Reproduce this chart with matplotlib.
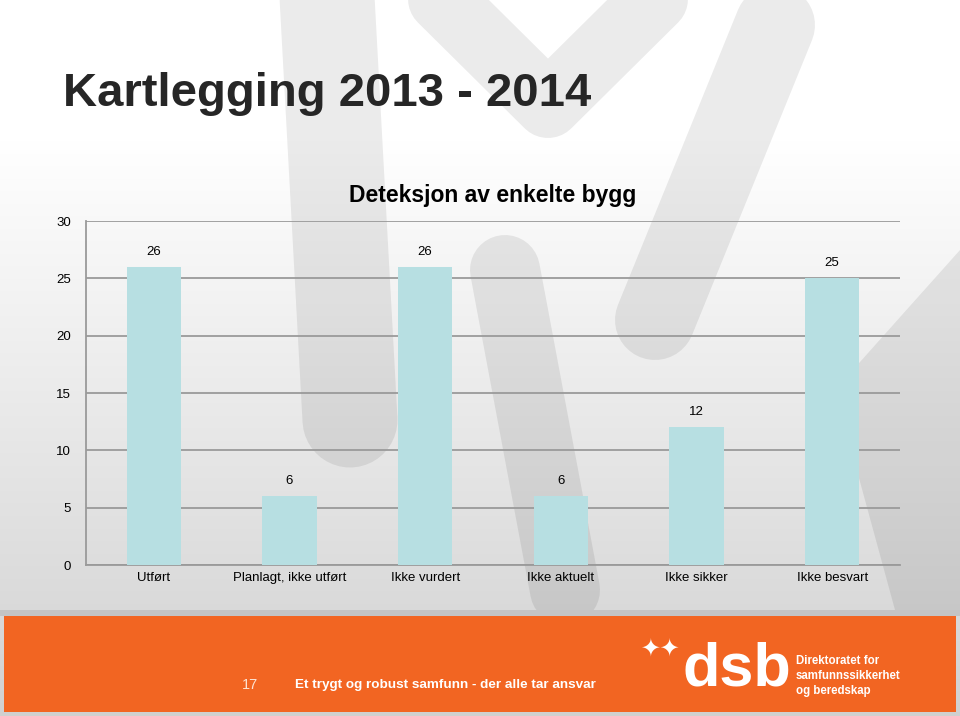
import matplotlib.pyplot as plt
import numpy as np
from matplotlib.patches import Rectangle, Polygon

categories = ['Utført', 'Planlagt, ikke utført', 'Ikke vurdert', 'Ikke aktuelt', 'Ikke sikker', 'Ikke besvart']
values = [26, 6, 26, 6, 12, 25]
yticks = [0, 5, 10, 15, 20, 25, 30]

plt.rcParams['font.family'] = ['Liberation Sans', 'DejaVu Sans']

fig = plt.figure(figsize=(9.6, 7.16), dpi=100)

# slide background: light gradient
bg = fig.add_axes([0, 0, 1, 1], zorder=0)
grad = np.concatenate([np.ones(50), np.linspace(1.0, 0.82, 206)]).reshape(-1, 1)
bg.imshow(np.dstack([grad, grad, grad]), aspect='auto', extent=[0, 960, 716, 0])
bg.set_xlim(0, 960)
bg.set_ylim(716, 0)
bg.axis('off')

# watermark (rough thick strokes, pixel coords)
def stroke(xs, ys, w):
    bg.plot(xs, ys, color='black', alpha=0.08, lw=w * 0.72, solid_capstyle='round',
            solid_joinstyle='round', zorder=1)

stroke([325, 350], [-40, 420], 95)
stroke([440, 548, 656], [-2, 105, -2], 66)
stroke([775, 655], [25, 320], 80)
stroke([505, 565], [270, 590], 70)
bg.add_patch(Polygon([[960, 250], [960, 610], [895, 610], [835, 390]], closed=True,
                     color='black', alpha=0.08, lw=0, zorder=1))

# footer band
bg.add_patch(Rectangle((0, 610), 960, 6, color='#c4c4c4', lw=0, zorder=5))
bg.add_patch(Rectangle((0, 712), 960, 4, color='#d0d0d0', lw=0, zorder=5))
bg.add_patch(Rectangle((4, 616), 952, 96, color='#f26522', lw=0, zorder=5))
bg.text(250, 685, '17', color='#fde2d2', fontsize=10.5, ha='center', va='center', zorder=6)
bg.text(295, 685, 'Et trygt og robust samfunn - der alle tar ansvar', color='white',
        fontsize=9.7, fontweight='bold', ha='left', va='center', zorder=6)
bg.text(737, 670, 'dsb', color='white', fontsize=44, fontweight='bold', ha='center', va='center', zorder=6)
bg.text(660, 648, '✦✦', color='white', fontsize=17, ha='center', va='center',
        family=['DejaVu Sans'], zorder=6)
bg.text(796, 676, 'Direktoratet for\nsamfunnssikkerhet\nog beredskap', color='white',
        fontsize=8.3, fontweight='bold', ha='left', va='center', linespacing=1.3, zorder=6)

# slide title
bg.text(63, 94, 'Kartlegging 2013 - 2014', color='#262626', fontsize=34, fontweight='bold',
        ha='left', va='center', zorder=6)

# chart
ax = fig.add_axes([86 / 960, 1 - 565 / 716, (900 - 86) / 960, (565 - 221) / 716], zorder=1)
ax.patch.set_alpha(0)
x = np.arange(len(categories))
ax.bar(x, values, width=0.4, color='#b7dfe2', zorder=3)
for xi, v in zip(x, values):
    ax.text(xi, v + 0.8, str(v), ha='center', va='bottom', fontsize=9.5, color='black')

ax.set_xlim(-0.5, len(categories) - 0.5)
ax.set_ylim(0, 30)
ax.set_yticks(yticks)
ax.set_xticks(x)
ax.set_xticklabels(categories, fontsize=9.5)
ax.tick_params(axis='y', labelsize=9.5, length=0, pad=11)
ax.tick_params(axis='x', length=0, pad=5)
ax.grid(axis='y', color='#9a9a9a', lw=1.3, zorder=0)
for s in ['top', 'right']:
    ax.spines[s].set_visible(False)
for s in ['left', 'bottom']:
    ax.spines[s].set_color('#9a9a9a')
    ax.spines[s].set_linewidth(1.3)
ax.set_title('Deteksjon av enkelte bygg', fontsize=16.5, fontweight='bold', pad=14)

fig.savefig('out.png', dpi=100)
